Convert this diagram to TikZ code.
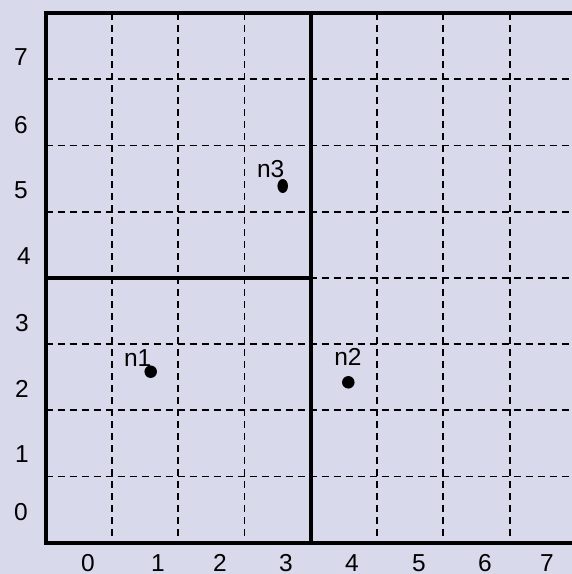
\documentclass[tikz,border=0pt]{standalone}
\usepackage{fontspec}
\setmainfont{Liberation Sans}
\usetikzlibrary{shapes.geometric}
\definecolor{bgc}{RGB}{217,217,236}
\tikzset{
  thick line/.style={line width=4pt, line cap=rect},
  grid dash/.style={line width=1.8pt, dash pattern=on 7pt off 5pt},
  lab/.style={inner sep=0pt, font=\fontsize{24.5}{24.5}\selectfont},
  dot/.style={circle, fill=black, inner sep=0pt, minimum size=12.5pt},
}
\begin{document}
\begin{tikzpicture}[x=1pt,y=-1pt]
\useasboundingbox (0,0) rectangle (572,574);
\fill[bgc] (0,0) rectangle (572,574);
% dashed grid
\foreach \k in {1,2,3,5,6,7} {
  \draw[grid dash] ({45.5+66.3*\k},13) -- ({45.5+66.3*\k},542.6);
}
\foreach \k in {1,2,3,4,5,6,7} {
  \draw[grid dash] (45.5,{13+66.2*\k}) -- (580,{13+66.2*\k});
}
% thick lines
\draw[thick line] (45.5,13) -- (580,13);
\draw[thick line] (45.5,542.6) -- (580,542.6);
\draw[thick line] (45.5,13) -- (45.5,542.6);
\draw[thick line] (310.7,13) -- (310.7,542.6);
\draw[thick line] (45.5,277.8) -- (310.7,277.8);
% y labels
\node[lab] (y7) at (21,57) {7};
\node[lab] (y6) at (21,125) {6};
\node[lab] (y5) at (21,190) {5};
\node[lab] (y4) at (24,256) {4};
\node[lab] (y3) at (22,323) {3};
\node[lab] (y2) at (22,389) {2};
\node[lab] (y1) at (22,454) {1};
\node[lab] (y0) at (21,512) {0};
% x labels
\node[lab] (x0) at (88,563.2) {0};
\node[lab] (x1) at (158,563.2) {1};
\node[lab] (x2) at (220,563.2) {2};
\node[lab] (x3) at (286,563.2) {3};
\node[lab] (x4) at (352,563.2) {4};
\node[lab] (x5) at (419,563.2) {5};
\node[lab] (x6) at (485,563.2) {6};
\node[lab] (x7) at (547,563.2) {7};
% points
\node[dot] (p1) at (150.7,371.7) {};
\node[dot] (p2) at (348.3,382.3) {};
\node[ellipse, fill=black, inner sep=0pt, minimum width=10.5pt, minimum height=14pt] (p3) at (282.7,186) {};
\node[lab] (n1) at (137.7,358) {n1};
\node[lab] (n2) at (348,357) {n2};
\node[lab] (n3) at (270.7,169) {n3};
\end{tikzpicture}
\end{document}
